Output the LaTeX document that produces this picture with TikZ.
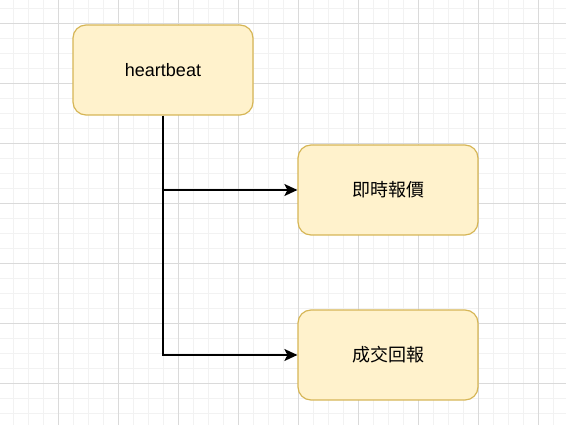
\documentclass[tikz,border=0pt]{standalone}
\usepackage{fontspec}
\setmainfont{Liberation Sans}
\newfontfamily\cjkfont{Noto Sans CJK TC}
\usetikzlibrary{arrows.meta}
\definecolor{boxfill}{HTML}{FFF2CC}
\definecolor{boxline}{HTML}{D6B656}
\definecolor{gridminor}{HTML}{F2F2F2}
\definecolor{gridmajor}{HTML}{DADADA}
\tikzset{
  stepbox/.style={draw=boxline, fill=boxfill, line width=1.2pt, rounded corners=13pt,
    minimum width=180pt, minimum height=90pt, inner sep=0pt, font=\fontsize{18pt}{22pt}\selectfont},
  link/.style={line width=1.5pt, -{Stealth[length=13pt,width=12pt,inset=3pt]}},
}
\begin{document}
\begin{tikzpicture}[x=1pt,y=-1pt]
\useasboundingbox (0,0) rectangle (566,425);
\fill[white] (0,0) rectangle (566,425);
% minor grid
\foreach \x in {-2,13,...,566} \draw[gridminor, line width=1pt] (\x,0) -- (\x,425);
\foreach \y in {9,24,...,425} \draw[gridminor, line width=1pt] (0,\y) -- (566,\y);
% major grid
\foreach \x in {58,118,...,566} \draw[gridmajor, line width=1pt] (\x,0) -- (\x,425);
\foreach \y in {24,84,...,425} \draw[gridmajor, line width=1pt] (0,\y) -- (566,\y);
% nodes
\node[stepbox] (hb) at (163,70) {heartbeat};
\node[stepbox] (rt) at (388,190) {\cjkfont 即時報價};
\node[stepbox] (tr) at (388,355) {\cjkfont 成交回報};
\coordinate (j1) at (163,190);
\coordinate (j2) at (163,355);
% connectors
\draw[link] (hb.south) -- (j2) -- (tr.west);
\draw[link] (j1) -- (rt.west);
\end{tikzpicture}
\end{document}
